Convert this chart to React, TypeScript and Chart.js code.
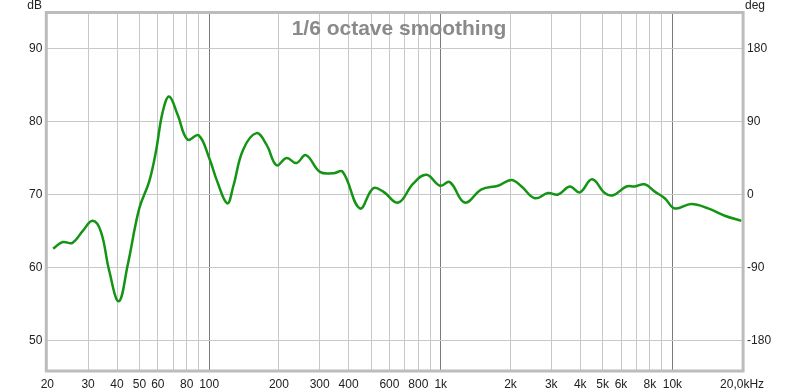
import React, { useEffect, useRef } from "react";
import { Chart, registerables } from "chart.js";

Chart.register(...registerables);

const freqs = [21.2, 23.3, 25.7, 28.4, 31.4, 34.1, 37.0, 40.7, 44.5, 49.9, 55.1, 58.9, 63.0, 67.2, 73.1, 80.7, 90.0, 100, 108, 119.7, 127, 140, 160, 177, 195.5, 216, 238, 261.6, 300.6, 343, 377, 447, 511, 564, 655, 760, 867, 991, 1094, 1270, 1500, 1768, 2020, 2232, 2547, 2905, 3211, 3606, 3984, 4500, 5106, 5546, 6335, 6881, 7598, 8393, 9268, 10236, 12082, 14256, 16830, 19860];
const spl = [62.6, 63.5, 63.4, 65.0, 66.4, 64.9, 59.6, 55.4, 60.4, 68.1, 71.8, 75.9, 81.3, 83.4, 80.9, 77.5, 78.1, 75.0, 71.9, 68.8, 71.1, 76.1, 78.4, 76.8, 74.0, 75.0, 74.3, 75.4, 73.1, 72.9, 73.1, 68.1, 70.85, 70.4, 68.9, 71.5, 72.7, 71.2, 71.7, 68.9, 70.7, 71.2, 72.0, 71.1, 69.5, 70.2, 70.0, 71.1, 70.3, 72.1, 70.2, 69.9, 71.1, 71.1, 71.4, 70.4, 69.5, 68.1, 68.7, 68.1, 67.1, 66.4];

const xGridValues = [20, 30, 40, 50, 60, 70, 80, 90, 100, 200, 300, 400, 500, 600, 700, 800, 900, 1000, 2000, 3000, 4000, 5000, 6000, 7000, 8000, 9000, 10000, 20000];
const xLabelValues = [20, 30, 40, 50, 60, 80, 100, 200, 300, 400, 600, 800, 1000, 2000, 3000, 4000, 5000, 6000, 8000, 10000, 20000];
const xLabelTexts = ["20", "30", "40", "50", "60", "80", "100", "200", "300", "400", "600", "800", "1k", "2k", "3k", "4k", "5k", "6k", "8k", "10k", "20,0kHz"];
const majorLines = [100, 1000, 10000];
const dbTicks = [50, 60, 70, 80, 90];
const degTicks = [-180, -90, 0, 90, 180];

const DB_MIN = 46;
const DB_MAX = 94.76;
const toDeg = (db: number) => (db - 70) * 9;

const FONT = "'Liberation Sans', Arial, sans-serif";

export default function App() {
  const ref = useRef<HTMLCanvasElement>(null);
  useEffect(() => {
    document.body.style.margin = "0";
    const canvas = ref.current!;
    const overlay = {
      id: "overlay",
      afterDatasetsDraw(chart: any) {
        const { ctx, chartArea } = chart;
        ctx.save();
        ctx.fillStyle = "#8a8a8a";
        ctx.font = `bold 21px ${FONT}`;
        ctx.textAlign = "center";
        ctx.textBaseline = "alphabetic";
        ctx.fillText("1/6 octave smoothing", 399, 34.5);
        ctx.strokeStyle = "#bcbcbc";
        ctx.lineWidth = 3;
        ctx.strokeRect(chartArea.left - 1, chartArea.top - 1, chartArea.right - chartArea.left + 2, chartArea.bottom - chartArea.top + 2);
        ctx.fillStyle = "#222";
        ctx.font = `12px ${FONT}`;
        ctx.textBaseline = "middle";
        ctx.textAlign = "right";
        ctx.fillText("dB", 42, 6);
        ctx.textAlign = "left";
        ctx.fillText("deg", 745, 6);
        ctx.restore();
      },
    };
    const chart = new Chart(canvas, {
      type: "line",
      data: {
        datasets: [
          {
            data: freqs.map((f, i) => ({ x: f, y: spl[i] })),
            borderColor: "#149414",
            borderWidth: 2.5,
            pointRadius: 0,
            tension: 0.4,
            fill: false,
          },
        ],
      },
      options: {
        animation: false,
        responsive: false,
        layout: { padding: { top: 13.5, left: 0, right: 0, bottom: 0 } },
        plugins: { legend: { display: false }, tooltip: { enabled: false }, title: { display: false } },
        scales: {
          x: {
            type: "logarithmic",
            min: 20,
            max: 20000,
            afterBuildTicks: (s: any) => {
              s.ticks = xGridValues.map((v) => ({ value: v }));
            },
            afterFit: (s: any) => {
              s.height = 22;
            },
            ticks: {
              autoSkip: false,
              maxRotation: 0,
              padding: 7,
              color: "#222",
              font: { family: FONT, size: 12 },
              callback: (v: any) => {
                const i = xLabelValues.indexOf(Number(v));
                return i >= 0 ? xLabelTexts[i] : "";
              },
            },
            grid: {
              drawTicks: false,
              lineWidth: 1,
              color: (c: any) => {
                const v = c.tick ? c.tick.value : 0;
                if (v === 20 || v === 20000) return "rgba(0,0,0,0)";
                return majorLines.includes(v) ? "#7a7a7a" : "#c8c8c8";
              },
            },
            border: { display: false },
          },
          y: {
            type: "linear",
            position: "left",
            min: DB_MIN,
            max: DB_MAX,
            afterBuildTicks: (s: any) => {
              s.ticks = dbTicks.map((v) => ({ value: v }));
            },
            afterFit: (s: any) => {
              s.width = 47.3;
            },
            ticks: { padding: 5, color: "#222", font: { family: FONT, size: 12 } },
            grid: { drawTicks: false, color: "#c8c8c8" },
            border: { display: false },
          },
          y2: {
            type: "linear",
            position: "right",
            min: toDeg(DB_MIN),
            max: toDeg(DB_MAX),
            afterBuildTicks: (s: any) => {
              s.ticks = degTicks.map((v) => ({ value: v }));
            },
            afterFit: (s: any) => {
              s.width = 57.9;
            },
            ticks: { padding: 5, color: "#222", font: { family: FONT, size: 12 } },
            grid: { display: false, drawTicks: false },
            border: { display: false },
          },
        },
      } as any,
      plugins: [overlay],
    });
    return () => chart.destroy();
  }, []);
  return <canvas ref={ref} width={800} height={392} style={{ display: "block" }} />;
}
